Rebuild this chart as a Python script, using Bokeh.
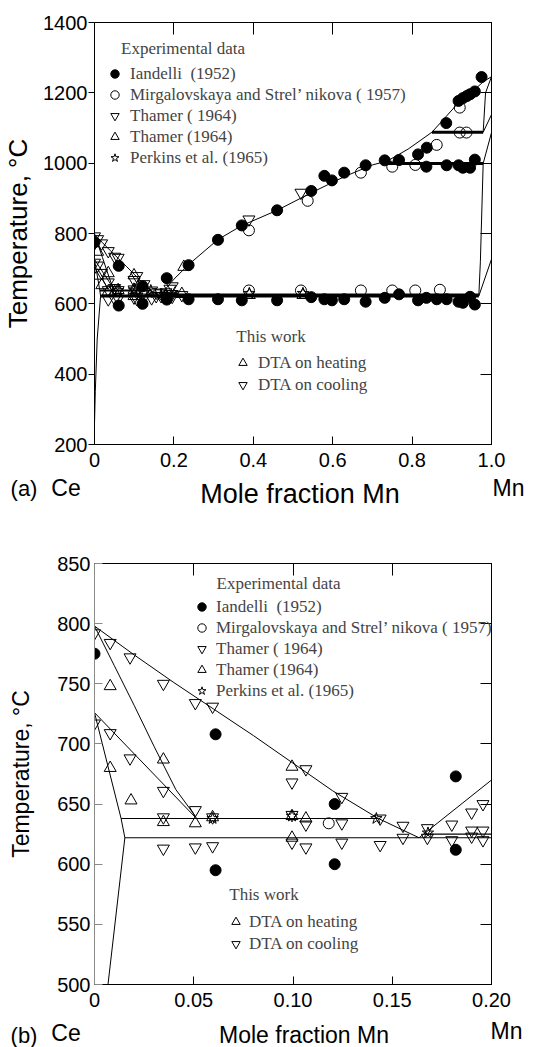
import math
from bokeh.plotting import figure
from bokeh.models import (LinearAxis, Range1d, Legend, LegendItem,
                          FixedTicker, CustomJSTickFormatter)
from bokeh.core.properties import value
from bokeh.layouts import column
from bokeh.embed import file_html
from bokeh.resources import INLINE

# ---------------- data (mole fraction Mn, temperature degC) ----------------
iandelli_x = [0.0, 0.061, 0.061, 0.121, 0.121, 0.182, 0.182, 0.237, 0.237,
              0.311, 0.311, 0.371, 0.371, 0.46, 0.46, 0.546, 0.546, 0.579, 0.579,
              0.598, 0.598, 0.629, 0.629, 0.683, 0.683, 0.731, 0.731, 0.767, 0.767,
              0.815, 0.815, 0.837, 0.836, 0.836, 0.862, 0.886, 0.887, 0.887,
              0.917, 0.917, 0.917, 0.928, 0.928, 0.928, 0.938, 0.946, 0.946, 0.946,
              0.958, 0.958, 0.958, 0.975]
iandelli_t = [775, 708, 595, 650, 600, 673, 612, 710, 613,
              782, 613, 823, 610, 866, 610, 921, 619, 964, 613,
              951, 610, 973, 613, 994, 606, 1008, 617, 1009, 627,
              1025, 610, 1044, 990, 617, 613, 1114, 994, 613,
              1177, 994, 606, 1185, 987, 603, 1191, 1196, 987, 620,
              1204, 1010, 598, 1245]

mirg_x = [0.118, 0.389, 0.389, 0.537, 0.52, 0.671, 0.671, 0.75, 0.75,
          0.808, 0.808, 0.862, 0.87, 0.92, 0.92, 0.937]
mirg_t = [634, 809, 638, 893, 638, 973, 638, 990, 638,
          995, 638, 1052, 640, 1158, 1087, 1087]

thamer_down_x = [0.0, 0.0079, 0.0179, 0.0347, 0.0508, 0.0595,
                 0.0, 0.0079, 0.0179, 0.0347,
                 0.1065, 0.0995, 0.1246,
                 0.0347, 0.0508, 0.0595, 0.0995, 0.1065, 0.1246, 0.1439, 0.1554,
                 0.1677, 0.18, 0.19, 0.1957,
                 0.0347, 0.0508, 0.0595, 0.0995, 0.1065, 0.1246, 0.1439, 0.1554,
                 0.1677, 0.18, 0.19, 0.19, 0.1957, 0.1957,
                 0.389, 0.52, 0.22]
thamer_down_t = [792, 784, 772, 750, 734, 731,
                 717, 709, 688, 661,
                 679, 668, 656,
                 639, 645, 639, 641, 633, 634, 638, 632,
                 630, 633, 643, 650,
                 613, 614, 615, 618, 614, 618, 616, 622,
                 622, 620, 623, 628, 620, 628,
                 840, 916, 625]

thamer_up_x = [0.0079, 0.0079, 0.0347, 0.0995,
               0.0184, 0.0347, 0.0508, 0.0595, 0.0995, 0.0995, 0.1065,
               0.225, 0.22, 0.39, 0.525]
thamer_up_t = [748, 680, 687, 681,
               653, 635, 634, 639, 622, 640, 638,
               705, 628, 625, 625]

perkins_x = [0.0595, 0.0995, 0.142, 0.168, 0.39, 0.525]
perkins_t = [638, 640, 638, 626, 630, 630]

# ---------------- phase boundaries ----------------
liq_ce_x = [0, 0.02, 0.04, 0.06, 0.08, 0.10, 0.12, 0.143, 0.1635]
liq_ce_t = [798, 774, 751, 729, 707, 684, 661, 638, 622]
sol_delta_x = [0, 0.01, 0.02, 0.03, 0.041, 0.0508]
sol_delta_t = [798, 765, 732, 698, 662, 640]
delta_gamma_x = [0, 0.0508]
delta_gamma_t = [726, 639]
gamma_delta_x = [0, 0.0134]
gamma_delta_t = [726, 638]
gamma_solvus_x = [0.0134, 0.0153, 0.0068, 0.002, 0.0]
gamma_solvus_t = [638, 622, 500, 350, 260]
metatectic_x = [0.0134, 0.143]
metatectic_t = [638, 638]
eutectic_x = [0.0153, 0.968]
eutectic_t = [622, 622]
upper_inv_x = [0.1665, 0.968]
upper_inv_t = [625, 625]
liq_mn_x = [0.1635, 0.2, 0.2375, 0.31, 0.37, 0.46, 0.55, 0.63, 0.70, 0.7375,
            0.79, 0.85, 0.917, 0.96, 0.98, 1.0]
liq_mn_t = [622, 670, 712, 782, 822, 866, 918, 962, 995, 1006,
            1040, 1088, 1172, 1212, 1232, 1246]
inv1000_x = [0.7375, 0.979]
inv1000_t = [999, 999]
inv1087_x = [0.85, 0.979]
inv1087_t = [1088, 1088]
mn_beta_x = [0.968, 0.972, 0.979]
mn_beta_t = [622, 720, 999]
mn_ab_x = [0.968, 1.0]
mn_ab_t = [622, 727]
mn_bg_x = [0.979, 1.0]
mn_bg_t = [999, 1087]
mn_gd_x = [0.979, 1.0]
mn_gd_t = [1088, 1138]
mn_sol_x = [0.979, 0.985, 1.0]
mn_sol_t = [1088, 1200, 1246]

thin_lines = [(liq_ce_x, liq_ce_t), (sol_delta_x, sol_delta_t),
              (delta_gamma_x, delta_gamma_t), (gamma_delta_x, gamma_delta_t),
              (gamma_solvus_x, gamma_solvus_t), (liq_mn_x, liq_mn_t),
              (mn_beta_x, mn_beta_t), (mn_ab_x, mn_ab_t), (mn_bg_x, mn_bg_t),
              (mn_gd_x, mn_gd_t), (mn_sol_x, mn_sol_t)]
inv_lines = [(metatectic_x, metatectic_t, 2.0), (eutectic_x, eutectic_t, 3.0),
             (upper_inv_x, upper_inv_t, 3.0), (inv1000_x, inv1000_t, 3.0),
             (inv1087_x, inv1087_t, 3.0)]

SANS = "Liberation Sans"
SERIF = "Liberation Serif"
W = 554


def build(xr, yr, xticks, yticks, fmt_code, height, borders, panel_a, ylabel, ylabel_size):
    p = figure(width=W, height=height, x_range=Range1d(*xr), y_range=Range1d(*yr),
               output_backend="svg", toolbar_location=None, tools="",
               min_border_left=borders[0], min_border_right=borders[1],
               min_border_top=borders[2], min_border_bottom=borders[3])
    p.grid.visible = False
    p.outline_line_color = "black"
    p.background_fill_color = "white"
    p.border_fill_color = "white"

    ax = p.xaxis[0]
    ax.ticker = FixedTicker(ticks=xticks)
    ax.formatter = CustomJSTickFormatter(code=fmt_code)
    ay = p.yaxis[0]
    ay.ticker = FixedTicker(ticks=yticks)
    for a in (ax, ay):
        a.major_label_text_font = SANS
        a.major_label_text_font_size = "20px"
        a.major_label_text_color = "black"
        a.minor_tick_line_color = None
        a.axis_line_color = "black"
        a.major_tick_line_color = "black"
    ax.major_tick_in = 8
    ax.major_tick_out = 0
    ax.major_label_standoff = 8
    ay.axis_label = ylabel
    ay.axis_label_text_font = SANS
    ay.axis_label_text_font_size = ylabel_size
    ay.axis_label_text_font_style = "normal"
    ay.axis_label_text_color = "black"
    if panel_a:
        ay.major_tick_in = 0
        ay.major_tick_out = 6
        ay.major_label_standoff = 1
        ay.axis_label_standoff = 7
    else:
        ay.major_tick_in = 8
        ay.major_tick_out = 0
        ay.major_label_standoff = 4
        ay.axis_label_standoff = 20
        ay.axis_line_color = "#8a8a8a"
        ay.major_tick_line_color = "#8a8a8a"

    top = LinearAxis(ticker=FixedTicker(ticks=xticks), major_tick_in=12, major_tick_out=0,
                     major_label_text_font_size="1px", major_label_text_color=None,
                     major_label_standoff=0, minor_tick_line_color=None)
    right = LinearAxis(ticker=FixedTicker(ticks=yticks), major_tick_in=11, major_tick_out=0,
                       major_label_text_font_size="1px", major_label_text_color=None,
                       major_label_standoff=0, minor_tick_line_color=None)
    p.add_layout(top, "above")
    p.add_layout(right, "right")

    for xs, ts in thin_lines:
        p.line(xs, ts, line_color="black", line_width=1.0)
    for xs, ts, w in inv_lines:
        p.line(xs, ts, line_color="black", line_width=(w if panel_a else 1.2))

    r_i = p.scatter(iandelli_x, iandelli_t, marker="circle", size=11,
                    fill_color="black", line_color="black")
    r_m = p.scatter(mirg_x, mirg_t, marker="circle", size=11,
                    fill_color=None, line_color="black", line_width=1)
    r_d = p.scatter(thamer_down_x, thamer_down_t, marker="inverted_triangle", size=12,
                    fill_color=None, line_color="black", line_width=1)
    r_u = p.scatter(thamer_up_x, thamer_up_t, marker="triangle", size=12,
                    fill_color=None, line_color="black", line_width=1)
    r_p = p.scatter(perkins_x, perkins_t, marker="star", size=12,
                    fill_color=None, line_color="black", line_width=1)
    return p, (r_i, r_m, r_d, r_u, r_p)


def add_legends(p, rs, exp_loc, exp_indent, exp_standoff, exp_title_sd,
                tw_loc, tw_standoff, tw_title_sd, tw_spacing):
    r_i, r_m, r_d, r_u, r_p = rs
    common = dict(border_line_color=None, background_fill_alpha=0,
                  label_text_font=SERIF, label_text_font_size="17px",
                  title_text_font=SERIF, title_text_font_size="17px",
                  title_text_font_style="normal", glyph_width=21, glyph_height=21,
                  label_height=21, padding=0, margin=0)
    leg1 = Legend(items=[
        LegendItem(label="Iandelli  (1952)", renderers=[r_i]),
        LegendItem(label="Mirgalovskaya and Strel\u2019 nikova ( 1957)", renderers=[r_m]),
        LegendItem(label="Thamer ( 1964)", renderers=[r_d]),
        LegendItem(label="Thamer (1964)", renderers=[r_u]),
        LegendItem(label="Perkins et al. (1965)", renderers=[r_p]),
    ], title="\u00a0" * exp_indent + "Experimental data", location=exp_loc,
        label_standoff=exp_standoff, title_standoff=exp_title_sd, spacing=0, **common)
    leg2 = Legend(items=[
        LegendItem(label="DTA on heating", renderers=[r_u]),
        LegendItem(label="DTA on cooling", renderers=[r_d]),
    ], title="\u00a0This work", location=tw_loc,
        label_standoff=tw_standoff, title_standoff=tw_title_sd, spacing=tw_spacing, **common)
    p.add_layout(leg1, "center")
    p.add_layout(leg2, "center")


def strip(height, items):
    """A text-only band below a panel; x and y are pixels of the band."""
    s = figure(width=W, height=height, x_range=Range1d(0, W), y_range=Range1d(height, 0),
               output_backend="svg", toolbar_location=None, tools="",
               x_axis_location=None, y_axis_location=None, frame_align=False,
               min_border_left=0, min_border_right=0, min_border_top=0, min_border_bottom=0)
    s.grid.visible = False
    s.outline_line_color = None
    s.background_fill_color = "white"
    s.border_fill_color = "white"
    for x, y, t, size, align in items:
        s.text(x=[x], y=[y], text=[t], text_font=value(SANS), text_font_size=value(size),
               text_align=align, text_baseline="middle", text_color="black")
    return s


# ---------------- panel (a) ----------------
pa, rsa = build((0, 1), (200, 1400), [0, 0.2, 0.4, 0.6, 0.8, 1.0],
                [200, 400, 600, 800, 1000, 1200, 1400],
                "return tick == 0 ? '0' : tick.toFixed(1);",
                475, (92, 63, 22, 31), True, "Temperature, \u00b0C", "26px")
add_legends(pa, rsa, (10, 276), 4, 5, 4, (138, 49), 5, 5, 1)
sa = strip(35, [(23.5, 13, "(a)", "22px", "center"),
                (65.5, 12, "Ce", "23px", "center"),
                (299.5, 18, "Mole fraction Mn", "27px", "center"),
                (492, 12, "Mn", "23px", "left")])

# ---------------- panel (b) ----------------
pb, rsb = build((0, 0.2), (500, 850), [0, 0.05, 0.10, 0.15, 0.20],
                [500, 550, 600, 650, 700, 750, 800, 850],
                "return tick == 0 ? '0' : tick.toFixed(2);",
                506, (92, 63, 53, 32), False, "Temperature, \u00b0C", "23px")
add_legends(pb, rsb, (97, 283), 6, 4, 2, (131, 30), 3, 6, 1)
sb = strip(31, [(23.5, 18.5, "(b)", "22px", "center"),
                (65.5, 16.5, "Ce", "23px", "center"),
                (303.5, 18, "Mole fraction Mn", "23px", "center"),
                (490, 14, "Mn", "23px", "left")])

layout = column(pa, sa, pb, sb, spacing=0)
open("out.html", "w").write(file_html(layout, INLINE))
